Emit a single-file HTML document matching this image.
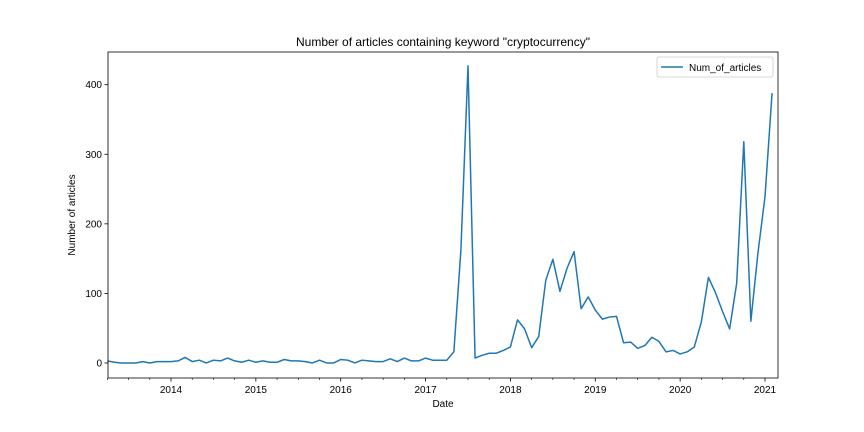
<!DOCTYPE html>
<html><head><meta charset="utf-8"><style>
html,body{margin:0;padding:0;background:#fff;}
svg{display:block;font-family:"Liberation Sans","DejaVu Sans",sans-serif;}
</style></head><body>
<svg id="chart" width="864" height="432" viewBox="0 0 864 432" xmlns="http://www.w3.org/2000/svg">
<rect x="0" y="0" width="864" height="432" fill="#fff"/>
<text x="443" y="46" text-anchor="middle" font-size="12">Number of articles containing keyword "cryptocurrency"</text>
<g id="grid"></g>
<path id="series" fill="none" stroke="#1f77b4" stroke-width="1.5" stroke-linejoin="round"/>
<rect x="108" y="52" width="670" height="326" fill="none" stroke="#000" stroke-width="0.8"/>
<g id="axes"></g>
<text x="443" y="407" text-anchor="middle" font-size="10">Date</text>
<text transform="translate(75,215) rotate(-90)" text-anchor="middle" font-size="10">Number of articles</text>
<g>
<rect x="657" y="57" width="116" height="20" rx="2" fill="#fff" stroke="#ccc" stroke-width="0.8"/>
<line x1="661" y1="67" x2="683" y2="67" stroke="#1f77b4" stroke-width="1.5"/>
<text x="689" y="71" font-size="10">Num_of_articles</text>
</g>
</svg>
<script>
// monthly values starting 2013-04
const values = [3,1,0,0,0,2,0,2,2,2,3,8,2,4,0,4,3,7,3,1,4,1,3,1,1,5,3,3,2,0,4,0,0,5,4,0,4,3,2,2,6,2,7,3,3,7,4,4,4,16,163,427,7,11,14,14,18,23,62,49,22,38,119,149,103,136,160,78,95,76,63,66,67,29,30,21,25,37,31,16,18,13,16,23,59,123,101,74,49,115,318,60,158,239,388];
const yTicks = [0,100,200,300,400];
const xTickLabels = ["2014","2015","2016","2017","2018","2019","2020","2021"];
const xTickIndex = [9,21,33,45,57,69,81,93];

const L=108,R=778,T=52,B=378;
const step=(765-171)/84;
const x0=171-9*step;
function xs(i){return x0+i*step;}
const yMin=-21.6,yMax=447;
function ys(v){return B-(v-yMin)/(yMax-yMin)*(B-T);}
const NS="http://www.w3.org/2000/svg";
const axes=document.getElementById('axes');
function mk(tag,attrs){const e=document.createElementNS(NS,tag);for(const k in attrs)e.setAttribute(k,attrs[k]);return e;}

let d="";
values.forEach((v,i)=>{d+=(i?"L":"M")+xs(i).toFixed(2)+","+ys(v).toFixed(2);});
document.getElementById('series').setAttribute('d',d);

yTicks.forEach(t=>{
  const y=ys(t);
  const ln=mk('line',{x1:L-3.5,x2:L,y1:y,y2:y,stroke:'#000','stroke-width':0.8});
  
  
  axes.appendChild(ln);
  const tx=mk('text',{x:L-6,y:y+3.5,'text-anchor':'end','font-size':10});
  
  
  tx.textContent=t;axes.appendChild(tx);
});
for(let i=0;i<=94;i++){
  const m=(i+3)%12;
  if(m%3!==0) continue;
  const x=xs(i);
  const major=(m===0);
  const ln=mk('line',{x1:x,x2:x,y1:B,y2:B+(major?3.5:2),stroke:'#000','stroke-width':major?0.8:0.6});
  
  
  axes.appendChild(ln);
}
xTickLabels.forEach((lab,k)=>{
  const tx=mk('text',{x:xs(xTickIndex[k]),y:B+15,'text-anchor':'middle','font-size':10});
  
  
  tx.textContent=lab;axes.appendChild(tx);
});
</script>
</body></html>
